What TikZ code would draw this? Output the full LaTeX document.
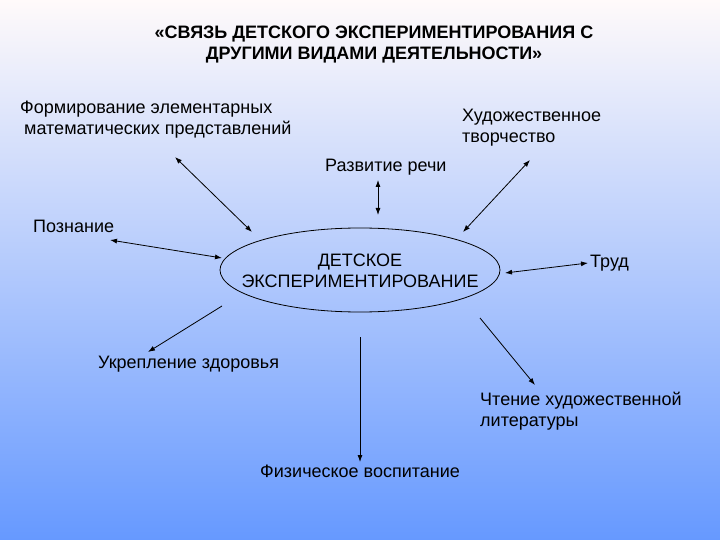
\documentclass[tikz,border=0pt]{standalone}
\usepackage{fontspec}
\setmainfont{Liberation Sans}
\usetikzlibrary{arrows.meta}
\begin{document}
\begin{tikzpicture}[x=1pt,y=-1pt,
  lbl/.style={anchor=west,inner sep=0pt,font=\fontsize{18}{21}\selectfont,align=left},
  conn/.style={line width=0.8pt,{Latex[length=7pt,width=5pt]}-{Latex[length=7pt,width=5pt]}},
  oneway/.style={line width=0.8pt,-{Latex[length=7pt,width=5pt]}}]
\fill[top color=white!92!pink, bottom color={rgb,255:red,102;green,153;blue,255}] (0,0) rectangle (720,540);
\useasboundingbox (0,0) rectangle (720,540);
\node[font=\bfseries\fontsize{18}{21}\selectfont,align=center] (title) at (374,45) {«СВЯЗЬ ДЕТСКОГО ЭКСПЕРИМЕНТИРОВАНИЯ С\\ДРУГИМИ ВИДАМИ ДЕЯТЕЛЬНОСТИ»};
\draw[line width=0.8pt] (360,270) ellipse (140 and 42);
\node[font=\fontsize{18}{21}\selectfont,align=center] (c) at (360,271) {ДЕТСКОЕ\\ЭКСПЕРИМЕНТИРОВАНИЕ};
\node[lbl] (f) at (20,120) {Формирование элементарных\\\hspace*{4pt}математических представлений};
\node[lbl] (h) at (462,128) {Художественное\\творчество};
\node[lbl] (r) at (325,167) {Развитие речи};
\node[lbl] (p) at (33,226) {Познание};
\node[lbl] (t) at (590,263) {Труд};
\node[lbl] (u) at (98,364) {Укрепление здоровья};
\node[lbl] (ch) at (480,411) {Чтение художественной\\литературы};
\node[lbl] (fv) at (260,471) {Физическое воспитание};
\coordinate (f1) at (175,157); \coordinate (f2) at (252,232);
\coordinate (r1) at (378,180); \coordinate (r2) at (378,215);
\coordinate (h1) at (530,160); \coordinate (h2) at (463,232);
\coordinate (p1) at (110,240); \coordinate (p2) at (222,258);
\coordinate (t1) at (505,273); \coordinate (t2) at (588,263);
\coordinate (u1) at (222,306); \coordinate (u2) at (148,352);
\coordinate (fv1) at (360,337); \coordinate (fv2) at (360,462);
\coordinate (ch1) at (480,318); \coordinate (ch2) at (535,385);
\draw[conn] (f1) -- (f2);
\draw[conn] (r1) -- (r2);
\draw[conn] (h1) -- (h2);
\draw[conn] (p1) -- (p2);
\draw[conn] (t1) -- (t2);
\draw[oneway] (u1) -- (u2);
\draw[oneway] (fv1) -- (fv2);
\draw[oneway] (ch1) -- (ch2);
\end{tikzpicture}
\end{document}
